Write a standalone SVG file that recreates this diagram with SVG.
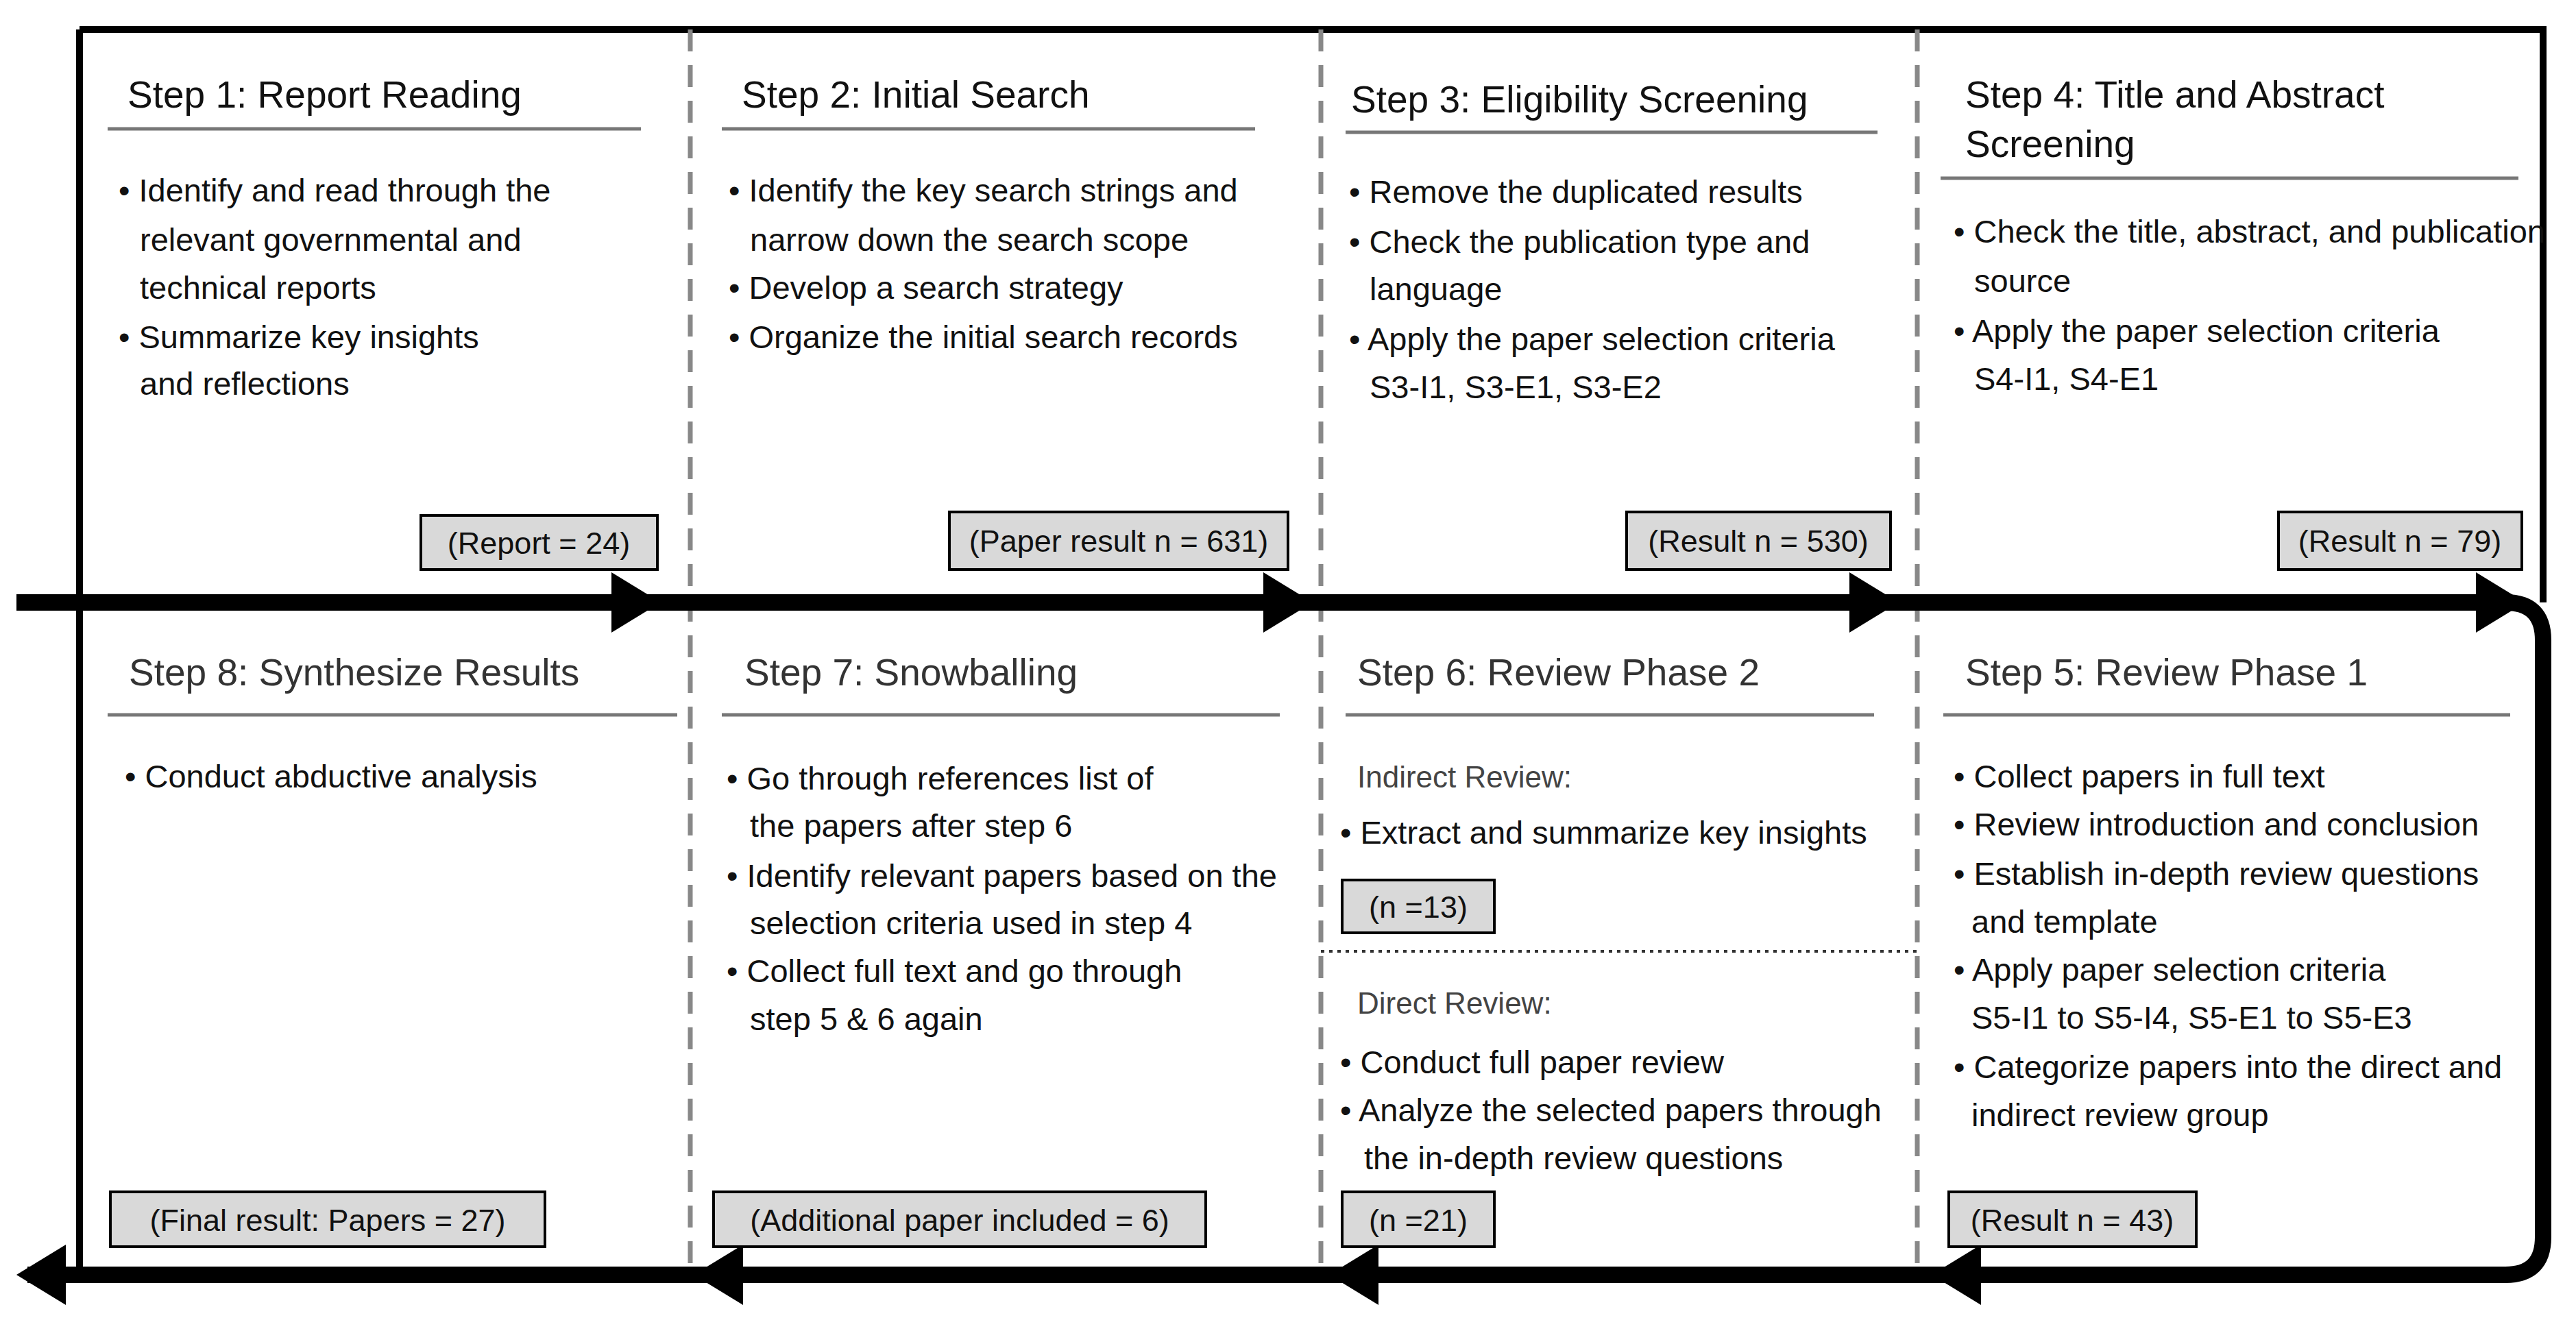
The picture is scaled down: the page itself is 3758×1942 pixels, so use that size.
<svg xmlns="http://www.w3.org/2000/svg" width="3758" height="1942" viewBox="0 0 3758 1942">
<style>
text{font-family:"Liberation Sans","Open Sans",sans-serif;fill:#111}
.t{font-size:55px}
.tl{font-size:55px;fill:#333}
.b{font-size:47px}
.sub{font-size:44px;fill:#444}
.bx{fill:#d9d9d9;stroke:#000;stroke-width:4}
.bt{font-size:45px;text-anchor:middle}
.ul{stroke:#777;stroke-width:5}
.dash{stroke:#888;stroke-width:7;stroke-dasharray:32 20}
.ah{fill:#000}
</style>
<defs><clipPath id="c"><rect x="0" y="0" width="3722" height="1942"/></clipPath></defs>
<rect width="3758" height="1942" fill="#fff"/>
<g id="connectors">
<path d="M116,43 H3710 V879 M116,43 V1860" fill="none" stroke="#000" stroke-width="10"/>
<line class="dash" x1="1007" y1="43" x2="1007" y2="1860"/>
<line class="dash" x1="1927" y1="43" x2="1927" y2="1860"/>
<line class="dash" x1="2797" y1="43" x2="2797" y2="1860"/>
<path d="M24,879 H3655 Q3710,879 3710,934 V1805 Q3710,1860 3655,1860 H40" fill="none" stroke="#000" stroke-width="24"/>
<polygon class="ah" points="892,835 964,879 892,923"/>
<polygon class="ah" points="1843,835 1915,879 1843,923"/>
<polygon class="ah" points="2698,835 2770,879 2698,923"/>
<polygon class="ah" points="3612,835 3684,879 3612,923"/>
<polygon class="ah" points="96,1816 24,1860 96,1904"/>
<polygon class="ah" points="1084,1816 1012,1860 1084,1904"/>
<polygon class="ah" points="2011,1816 1939,1860 2011,1904"/>
<polygon class="ah" points="2890,1816 2818,1860 2890,1904"/>
<line x1="1927" y1="1388" x2="2797" y2="1388" stroke="#333" stroke-width="4" stroke-dasharray="5 7"/>
</g>
<g id="step1">
<text class="t" x="186" y="157">Step 1: Report Reading</text>
<line class="ul" x1="157" y1="188" x2="935" y2="188"/>
<text class="b" x="173" y="294">• Identify and read through the</text>
<text class="b" x="204" y="366">relevant governmental and</text>
<text class="b" x="204" y="436">technical reports</text>
<text class="b" x="173" y="508">• Summarize key insights</text>
<text class="b" x="204" y="576">and reflections</text>
<rect class="bx" x="614" y="752" width="345" height="79"/>
<text class="bt" x="786" y="808">(Report = 24)</text>
</g>
<g id="step2">
<text class="t" x="1082" y="157">Step 2: Initial Search</text>
<line class="ul" x1="1053" y1="188" x2="1831" y2="188"/>
<text class="b" x="1063" y="294">• Identify the key search strings and</text>
<text class="b" x="1094" y="366">narrow down the search scope</text>
<text class="b" x="1063" y="436">• Develop a search strategy</text>
<text class="b" x="1063" y="508">• Organize the initial search records</text>
<rect class="bx" x="1385" y="747" width="494" height="84"/>
<text class="bt" x="1632" y="805">(Paper result n = 631)</text>
</g>
<g id="step3">
<text class="t" x="1971" y="164">Step 3: Eligibility Screening</text>
<line class="ul" x1="1963" y1="193" x2="2739" y2="193"/>
<text class="b" x="1968" y="296">• Remove the duplicated results</text>
<text class="b" x="1968" y="369">• Check the publication type and</text>
<text class="b" x="1998" y="438">language</text>
<text class="b" x="1968" y="511">• Apply the paper selection criteria</text>
<text class="b" x="1998" y="581">S3-I1, S3-E1, S3-E2</text>
<rect class="bx" x="2373" y="747" width="385" height="84"/>
<text class="bt" x="2565" y="805">(Result n = 530)</text>
</g>
<g id="step4" clip-path="url(#c)">
<text class="t" x="2867" y="157">Step 4: Title and Abstract</text>
<text class="t" x="2867" y="229">Screening</text>
<line class="ul" x1="2831" y1="260" x2="3674" y2="260"/>
<text class="b" x="2850" y="354">• Check the title, abstract, and publication</text>
<text class="b" x="2880" y="426">source</text>
<text class="b" x="2850" y="499">• Apply the paper selection criteria</text>
<text class="b" x="2880" y="569">S4-I1, S4-E1</text>
<rect class="bx" x="3324" y="747" width="355" height="84"/>
<text class="bt" x="3501" y="805">(Result n = 79)</text>
</g>
<g id="step5">
<text class="tl" x="2867" y="1000">Step 5: Review Phase 1</text>
<line class="ul" x1="2835" y1="1043" x2="3662" y2="1043"/>
<text class="b" x="2850" y="1149">• Collect papers in full text</text>
<text class="b" x="2850" y="1219">• Review introduction and conclusion</text>
<text class="b" x="2850" y="1291">• Establish in-depth review questions</text>
<text class="b" x="2876" y="1361">and template</text>
<text class="b" x="2850" y="1431">• Apply paper selection criteria</text>
<text class="b" x="2876" y="1501">S5-I1 to S5-I4, S5-E1 to S5-E3</text>
<text class="b" x="2850" y="1573">• Categorize papers into the direct and</text>
<text class="b" x="2876" y="1643">indirect review group</text>
<rect class="bx" x="2843" y="1739" width="361" height="80"/>
<text class="bt" x="3023" y="1796">(Result n = 43)</text>
</g>
<g id="step6">
<text class="tl" x="1980" y="1000">Step 6: Review Phase 2</text>
<line class="ul" x1="1963" y1="1043" x2="2734" y2="1043"/>
<text class="sub" x="1980" y="1149">Indirect Review:</text>
<text class="b" x="1955" y="1231">• Extract and summarize key insights</text>
<rect class="bx" x="1958" y="1284" width="222" height="77"/>
<text class="bt" x="2069" y="1339">(n =13)</text>
<text class="sub" x="1980" y="1479">Direct Review:</text>
<text class="b" x="1955" y="1566">• Conduct full paper review</text>
<text class="b" x="1955" y="1636">• Analyze the selected papers through</text>
<text class="b" x="1990" y="1706">the in-depth review questions</text>
<rect class="bx" x="1958" y="1739" width="222" height="80"/>
<text class="bt" x="2069" y="1796">(n =21)</text>
</g>
<g id="step7">
<text class="tl" x="1086" y="1000">Step 7: Snowballing</text>
<line class="ul" x1="1053" y1="1043" x2="1867" y2="1043"/>
<text class="b" x="1060" y="1152">• Go through references list of</text>
<text class="b" x="1094" y="1221">the papers after step 6</text>
<text class="b" x="1060" y="1294">• Identify relevant papers based on the</text>
<text class="b" x="1094" y="1363">selection criteria used in step 4</text>
<text class="b" x="1060" y="1433">• Collect full text and go through</text>
<text class="b" x="1094" y="1503">step 5 &amp; 6 again</text>
<rect class="bx" x="1041" y="1739" width="718" height="80"/>
<text class="bt" x="1400" y="1796">(Additional paper included = 6)</text>
</g>
<g id="step8">
<text class="tl" x="188" y="1000">Step 8: Synthesize Results</text>
<line class="ul" x1="157" y1="1043" x2="988" y2="1043"/>
<text class="b" x="182" y="1149">• Conduct abductive analysis</text>
<rect class="bx" x="161" y="1739" width="634" height="80"/>
<text class="bt" x="478" y="1796">(Final result: Papers = 27)</text>
</g>
</svg>
